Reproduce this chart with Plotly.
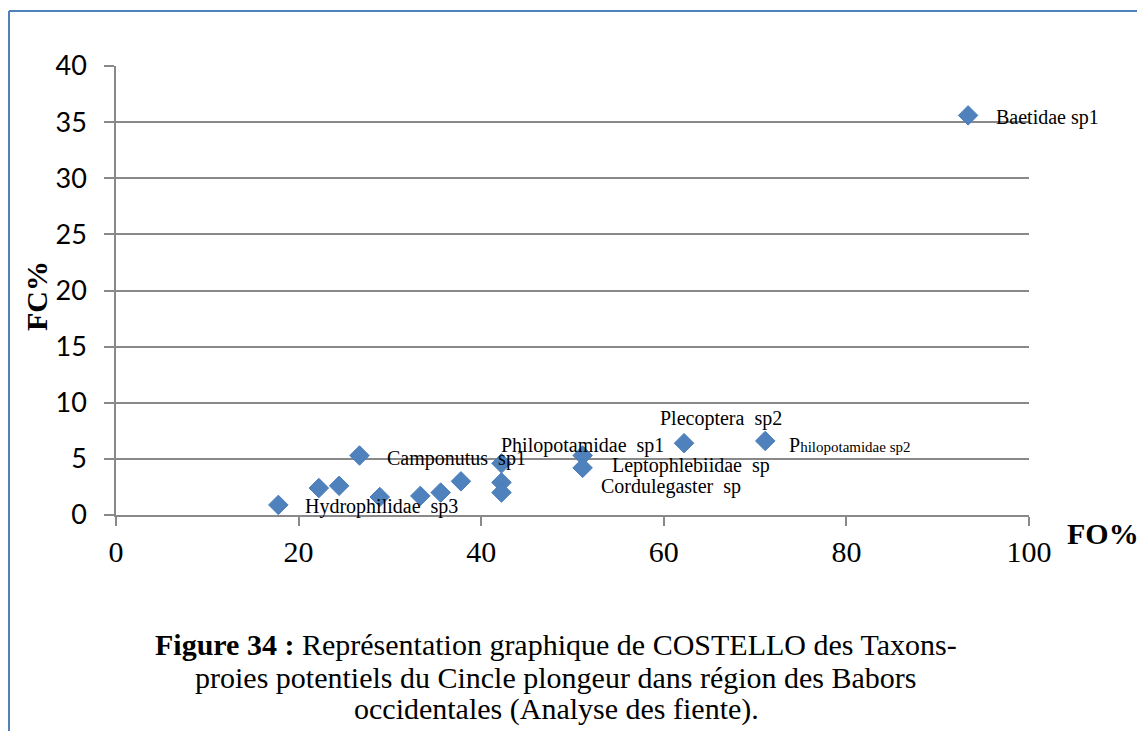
import plotly.graph_objects as go

# FO% (fréquence d'occurrence) et FC% (fréquence centésimale) des taxons-proies
fo = [17.78, 22.22, 24.44, 26.67, 28.89, 33.33, 35.56, 37.78,
      42.22, 42.22, 42.22, 51.11, 51.11, 62.22, 71.11, 93.33]
fc = [0.9, 2.4, 2.6, 5.3, 1.6, 1.7, 2.0, 3.0,
      4.6, 2.9, 2.0, 5.3, 4.2, 6.4, 6.6, 35.6]
noms = ['Hydrophilidae  sp3', '', '', 'Camponutus  sp1', '', '', '', '',
        '', '', '', 'Philopotamidae  sp1', 'Leptophlebiidae  sp', 'Plecoptera  sp2',
        'P<span style="font-size:15px">hilopotamidae sp2</span>', 'Baetidae sp1']
# étiquette supplémentaire déplacée à la main dans Excel
extra_nom = 'Cordulegaster  sp'
extra_idx = 12

x_ticks = [0, 20, 40, 60, 80, 100]
y_ticks = [0, 5, 10, 15, 20, 25, 30, 35, 40]

# la page html a une marge de 8 px autour de la figure
OFF = 8
W, H = 1145 - OFF, 731 - OFF
L, R, T, B = 116 - OFF, 116, 66 - OFF, 216
bleu = '#4F81BD'
gris = '#898989'
serif = 'Liberation Serif, Times New Roman, serif'


def px(x):
    # position en pixels de la page -> coordonnée "paper"
    return (x - OFF - L) / (W - L - R)


def py(y):
    return (H - B - (y - OFF)) / (H - T - B)


# décalages des étiquettes (xanchor, xshift, yshift) en pixels
decal = {
    0: ('left', 25, -2),
    3: ('left', 25, -3),
    11: ('center', 0, 10),
    12: ('left', 27, 2),
    13: ('left', -26, 25),
    14: ('left', 22, -4),
    15: ('left', 26, -2),
}

fig = go.Figure()
fig.add_trace(go.Scatter(
    x=fo, y=fc, mode='markers',
    marker=dict(symbol='diamond', size=15, color=bleu,
                line=dict(color='#4A7EBB', width=1)),
    hoverinfo='x+y', showlegend=False
))

annotations = []
for i, nom in enumerate(noms):
    if not nom:
        continue
    xa, dx, dy = decal[i]
    annotations.append(dict(
        x=fo[i], y=fc[i], xref='x', yref='y', text=nom, showarrow=False,
        xanchor=xa, yanchor='middle', xshift=dx, yshift=dy,
        font=dict(family=serif, size=20, color='black')
    ))
annotations.append(dict(
    x=fo[extra_idx], y=fc[extra_idx], xref='x', yref='y', text=extra_nom,
    showarrow=False, xanchor='left', yanchor='middle', xshift=16, yshift=-19,
    font=dict(family=serif, size=20, color='black')
))

# titres des axes
annotations.append(dict(
    x=px(36), y=py(296), xref='paper', yref='paper', text='<b>FC%</b>',
    textangle=-90, showarrow=False, xanchor='center', yanchor='middle',
    font=dict(family=serif, size=30, color='black')
))
annotations.append(dict(
    x=px(1103), y=py(533), xref='paper', yref='paper', text='<b>FO%</b>',
    showarrow=False, xanchor='center', yanchor='middle',
    font=dict(family=serif, size=30, color='black')
))

# légende de la figure
legende = [
    '<b>Figure 34 :</b> Représentation graphique de COSTELLO des Taxons-',
    'proies potentiels du Cincle plongeur dans région des Babors',
    'occidentales (Analyse des fiente).',
]
for ligne, yc in zip(legende, [644, 677, 709]):
    annotations.append(dict(
        x=px(556), y=py(yc), xref='paper', yref='paper', text=ligne,
        showarrow=False, xanchor='center', yanchor='middle',
        font=dict(family=serif, size=30, color='black')
    ))

# cadre bleu du graphique
shapes = [
    dict(type='line', xref='paper', yref='paper', x0=px(9), x1=px(1150),
         y0=py(11), y1=py(11), line=dict(color=bleu, width=2)),
    dict(type='line', xref='paper', yref='paper', x0=px(9), x1=px(9),
         y0=py(11), y1=py(740), line=dict(color=bleu, width=2)),
]

fig.update_layout(
    width=W, height=H,
    margin=dict(l=L, r=R, t=T, b=B),
    paper_bgcolor='white', plot_bgcolor='white',
    xaxis=dict(range=[0, 100], tickvals=x_ticks, ticks='outside', ticklen=9,
               tickcolor=gris, tickwidth=1.5, showline=True, linecolor=gris,
               linewidth=1.5, showgrid=False, zeroline=False,
               tickfont=dict(family=serif, size=30, color='black'),
               ticklabelstandoff=0),
    yaxis=dict(range=[0, 40], tickvals=y_ticks, ticks='outside', ticklen=10,
               tickcolor=gris, tickwidth=1.5, showline=True, linecolor=gris,
               linewidth=1.5, showgrid=True, gridcolor=gris, gridwidth=1.5,
               zeroline=False,
               tickfont=dict(family='Lato', size=27, color='black'),
               ticklabelstandoff=12),
    annotations=annotations,
    shapes=shapes,
)

fig.write_html('out.html')
